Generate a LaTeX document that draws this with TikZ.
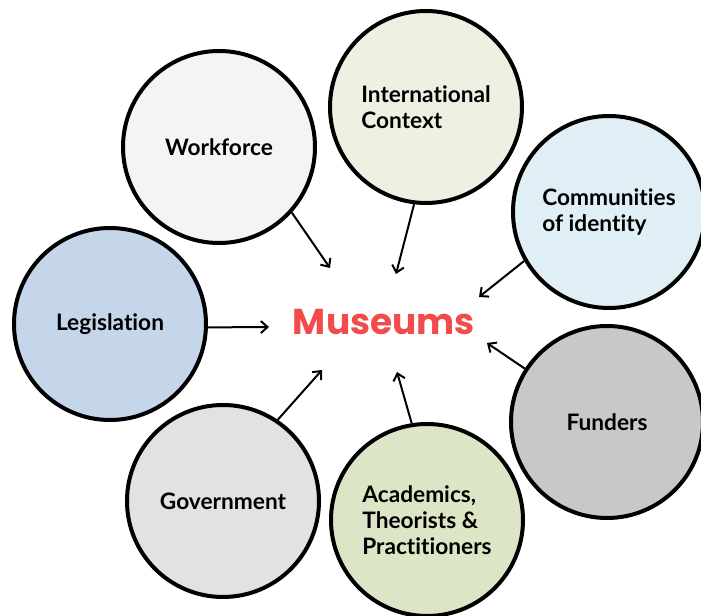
\documentclass[tikz,border=0pt]{standalone}
\usepackage{fontspec}
\setmainfont{Lato}[Ligatures={NoCommon}]
\newfontfamily\titlefont{Poppins}
\usepackage{tikz}
\usetikzlibrary{arrows.meta}

\definecolor{wfFill}{HTML}{F4F4F4}
\definecolor{icFill}{HTML}{EEF1E2}
\definecolor{ciFill}{HTML}{E0EFF5}
\definecolor{lgFill}{HTML}{C5D6EA}
\definecolor{fdFill}{HTML}{C8C8C8}
\definecolor{gvFill}{HTML}{E2E2E2}
\definecolor{acFill}{HTML}{DDE5C7}
\definecolor{musRed}{HTML}{F24B4B}

\tikzset{
  bubble/.style={draw=black, line width=3pt, circle, minimum size=192*0.75pt,
    inner sep=0pt, align=left, font=\fontsize{17}{19.5}\selectfont\bfseries},
  feed/.style={draw=black, line width=1.5pt, -{Straight Barb[length=5pt,width=9pt]}}
}

\begin{document}
\begin{tikzpicture}[x=0.75pt,y=0.75pt,yscale=-1,xscale=1]
\useasboundingbox (0,0) rectangle (701,616);

% Centre Node
\node (mus) at (384,322) [text=musRed, font=\titlefont\fontsize{27}{30}\selectfont\bfseries] {Museums};

% Circle Nodes
\node (wf) at (219,147) [bubble, fill=wfFill] {Workforce};
\node (ic) at (426,107) [bubble, fill=icFill] {International\\Context};
\node (ci) at (609,212) [bubble, fill=ciFill] {Communities\\of identity};
\node (lg) at (110,324) [bubble, fill=lgFill] {Legislation};
\node (fd) at (607,422) [bubble, fill=fdFill] {Funders};
\node (gv) at (223,501) [bubble, fill=gvFill] {Government};
\node (ac) at (427,520) [bubble, fill=acFill] {Academics,\\Theorists \&\\Practitioners};

% Arrow ends
\coordinate (wfEnd) at (330,268);
\coordinate (icEnd) at (396,274);
\coordinate (ciEnd) at (479,297);
\coordinate (lgEnd) at (269,327);
\coordinate (fdEnd) at (487,343);
\coordinate (gvEnd) at (322,370);
\coordinate (acEnd) at (397,372);

% Connections
\draw [feed] (wf.-42.5) -- (wfEnd);
\draw [feed] (ic.-97.5) -- (icEnd);
\draw [feed] (ci.210) -- (ciEnd);
\draw [feed] (lg.-2) -- (lgEnd);
\draw [feed] (fd.147) -- (fdEnd);
\draw [feed] (gv.56) -- (gvEnd);
\draw [feed] (ac.99.5) -- (acEnd);

\end{tikzpicture}
\end{document}
